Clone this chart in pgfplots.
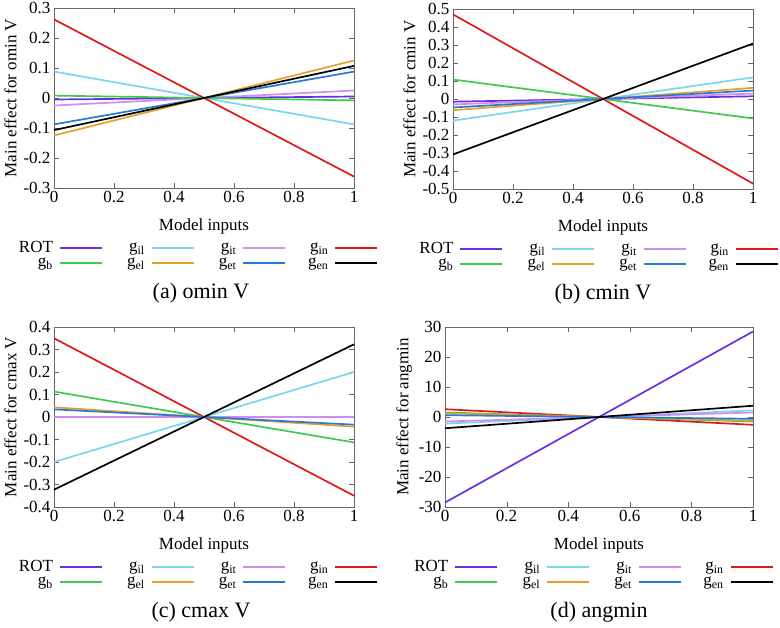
\documentclass[border=0pt]{standalone}
\usepackage{fontspec}
\setmainfont{Liberation Serif}
\usepackage{pgfplots}
\pgfplotsset{compat=1.18}

\definecolor{cROT}{RGB}{104,48,224}
\definecolor{cb}{RGB}{64,200,80}
\definecolor{cil}{RGB}{120,214,240}
\definecolor{cel}{RGB}{232,160,40}
\definecolor{cit}{RGB}{210,140,240}
\definecolor{cet}{RGB}{40,120,216}
\definecolor{cin}{RGB}{224,24,24}
\definecolor{cen}{RGB}{0,0,0}

\newcommand{\fs}{\fontsize{17bp}{19bp}\selectfont}
\newcommand{\capfont}{\fontsize{22bp}{24bp}\selectfont}
\newcommand{\lb}[1]{\makebox[36bp][r]{#1}}

\pgfplotsset{
  me/.style={
    scale only axis, width=300bp, height=180bp,
    xmin=0, xmax=1, xtick={0,0.2,0.4,0.6,0.8,1},
    tick align=inside,
    axis line style={black!60}, major tick style={black!60},
    major tick length=5bp,
    scaled ticks=false,
    tick label style={font=\fs},
    label style={font=\fs},
    xlabel style={yshift=-9bp},
    /pgf/number format/assume math mode=true,
    xlabel={Model inputs},
    clip=false,
    legend columns=4, legend plot pos=right, legend cell align=right,
    legend style={draw=none, fill=none, font=\fs, column sep=4bp,
      row sep=0bp, anchor=north, inner sep=0pt},
    legend image code/.code={\draw[##1,line width=1.8pt] (0bp,0bp) -- (42bp,0bp);},
    every axis plot/.append style={line width=1.7pt},
  }
}

\begin{document}
\begin{tikzpicture}
\useasboundingbox (0bp,0bp) rectangle (780bp,628bp);

% (a) omin V
\begin{axis}[me, at={(54bp,440bp)}, anchor=south west,
  ymin=-0.3, ymax=0.3, ytick={-0.3,-0.2,-0.1,0,0.1,0.2,0.3},
  ylabel={Main effect for omin V},
  legend style={at={(0.475,-0.285)}}]
\addplot[cROT] coordinates {(0,-0.005) (1,0.005)}; \addlegendentry{\lb{ROT}}
\addplot[cil] coordinates {(0,0.088) (1,-0.088)}; \addlegendentry{\lb{g\textsubscript{il}}}
\addplot[cit] coordinates {(0,-0.025) (1,0.025)}; \addlegendentry{\lb{g\textsubscript{it}}}
\addplot[cin] coordinates {(0,0.262) (1,-0.262)}; \addlegendentry{\lb{g\textsubscript{in}}}
\addplot[cb] coordinates {(0,0.008) (1,-0.008)}; \addlegendentry{\lb{g\textsubscript{b}}}
\addplot[cel] coordinates {(0,-0.125) (1,0.125)}; \addlegendentry{\lb{g\textsubscript{el}}}
\addplot[cet] coordinates {(0,-0.088) (1,0.088)}; \addlegendentry{\lb{g\textsubscript{et}}}
\addplot[cen] coordinates {(0,-0.107) (1,0.107)}; \addlegendentry{\lb{g\textsubscript{en}}}
\node[font=\capfont] at (rel axis cs:0.49,-0.585) {(a) omin V};
\end{axis}

% (b) cmin V
\begin{axis}[me, at={(453bp,439bp)}, anchor=south west,
  ymin=-0.5, ymax=0.5, ytick={-0.5,-0.4,-0.3,-0.2,-0.1,0,0.1,0.2,0.3,0.4,0.5},
  ylabel={Main effect for cmin V},
  legend style={at={(0.48,-0.285)}}]
\addplot[cROT] coordinates {(0,-0.015) (1,0.015)}; \addlegendentry{\lb{ROT}}
\addplot[cil] coordinates {(0,-0.12) (1,0.12)}; \addlegendentry{\lb{g\textsubscript{il}}}
\addplot[cit] coordinates {(0,-0.03) (1,0.03)}; \addlegendentry{\lb{g\textsubscript{it}}}
\addplot[cin] coordinates {(0,0.47) (1,-0.47)}; \addlegendentry{\lb{g\textsubscript{in}}}
\addplot[cb] coordinates {(0,0.108) (1,-0.108)}; \addlegendentry{\lb{g\textsubscript{b}}}
\addplot[cel] coordinates {(0,-0.062) (1,0.062)}; \addlegendentry{\lb{g\textsubscript{el}}}
\addplot[cet] coordinates {(0,-0.047) (1,0.047)}; \addlegendentry{\lb{g\textsubscript{et}}}
\addplot[cen] coordinates {(0,-0.308) (1,0.308)}; \addlegendentry{\lb{g\textsubscript{en}}}
\node[font=\capfont] at (rel axis cs:0.5,-0.585) {(b) cmin V};
\end{axis}

% (c) cmax V
\begin{axis}[me, at={(54bp,121bp)}, anchor=south west,
  ymin=-0.4, ymax=0.4, ytick={-0.4,-0.3,-0.2,-0.1,0,0.1,0.2,0.3,0.4},
  ylabel={Main effect for cmax V},
  legend style={at={(0.475,-0.285)}}]
\addplot[cROT] coordinates {(0,0.0) (1,0.0)}; \addlegendentry{\lb{ROT}}
\addplot[cil] coordinates {(0,-0.2) (1,0.2)}; \addlegendentry{\lb{g\textsubscript{il}}}
\addplot[cit] coordinates {(0,0.0) (1,0.0)}; \addlegendentry{\lb{g\textsubscript{it}}}
\addplot[cin] coordinates {(0,0.35) (1,-0.35)}; \addlegendentry{\lb{g\textsubscript{in}}}
\addplot[cb] coordinates {(0,0.113) (1,-0.113)}; \addlegendentry{\lb{g\textsubscript{b}}}
\addplot[cel] coordinates {(0,0.043) (1,-0.043)}; \addlegendentry{\lb{g\textsubscript{el}}}
\addplot[cet] coordinates {(0,0.034) (1,-0.034)}; \addlegendentry{\lb{g\textsubscript{et}}}
\addplot[cen] coordinates {(0,-0.323) (1,0.323)}; \addlegendentry{\lb{g\textsubscript{en}}}
\node[font=\capfont] at (rel axis cs:0.49,-0.585) {(c) cmax V};
\end{axis}

% (d) angmin
\begin{axis}[me, at={(445bp,121bp)}, anchor=south west, width=308bp,
  ymin=-30, ymax=30, ytick={-30,-20,-10,0,10,20,30},
  ylabel={Main effect for angmin},
  legend style={at={(0.477,-0.285)}}]
\addplot[cROT] coordinates {(0,-28.5) (1,28.5)}; \addlegendentry{\lb{ROT}}
\addplot[cil] coordinates {(0,-2.2) (1,2.2)}; \addlegendentry{\lb{g\textsubscript{il}}}
\addplot[cit] coordinates {(0,-1.5) (1,1.5)}; \addlegendentry{\lb{g\textsubscript{it}}}
\addplot[cin] coordinates {(0,2.6) (1,-2.6)}; \addlegendentry{\lb{g\textsubscript{in}}}
\addplot[cb] coordinates {(0,1.5) (1,-1.5)}; \addlegendentry{\lb{g\textsubscript{b}}}
\addplot[cel] coordinates {(0,1.2) (1,-1.2)}; \addlegendentry{\lb{g\textsubscript{el}}}
\addplot[cet] coordinates {(0,0.6) (1,-0.6)}; \addlegendentry{\lb{g\textsubscript{et}}}
\addplot[cen] coordinates {(0,-3.75) (1,3.75)}; \addlegendentry{\lb{g\textsubscript{en}}}
\node[font=\capfont] at (rel axis cs:0.5,-0.585) {(d) angmin};
\end{axis}
\end{tikzpicture}
\end{document}
